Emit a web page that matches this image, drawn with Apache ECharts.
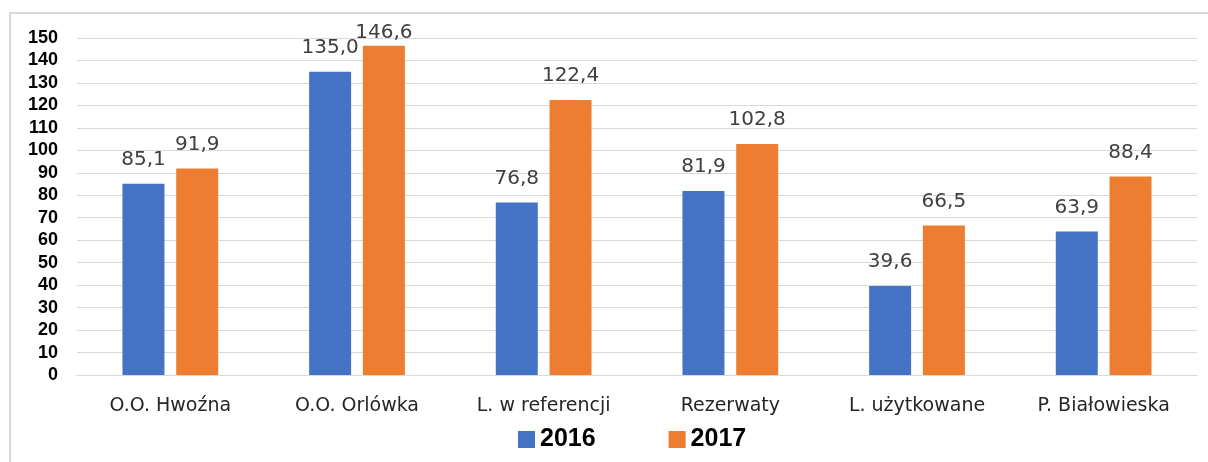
<!DOCTYPE html>
<html>
<head>
<meta charset="utf-8">
<script src="https://cdn.jsdelivr.net/npm/echarts@6/dist/echarts.min.js"></script>
<style>
	html, body { margin: 0; padding: 0; background: #fff; }
	#chart { width: 1208px; height: 462px; }
</style>
</head>
<body>
<div id="chart"></div>
<script>
	var categories = ['O.O. Hwoźna', 'O.O. Orlówka', 'L. w referencji', 'Rezerwaty', 'L. użytkowane', 'P. Białowieska'];
	var values2016 = [85.1, 135.0, 76.8, 81.9, 39.6, 63.9];
	var values2017 = [91.9, 146.6, 122.4, 102.8, 66.5, 88.4];
	var seriesNames = ['2016', '2017'];
	var colors = ['#4472c4', '#ed7d31'];
	var yMax = 150;

	var chart = echarts.init(document.getElementById('chart'));

	// label with comma as decimal point
	var labelOpt = {
		show: true,
		position: 'top',
		distance: 14,
		color: '#404040',
		fontFamily: 'DejaVu Sans',
		fontSize: 20,
		formatter: function(p){
			return p.value.toFixed(1).replace('.', ',');
		}
	};

	// labels near the top get squeezed down like in the original
	function buildData(arr){
		return arr.map(function(v){
			if(v > yMax - 8)
				return { value: v, label: { distance: 3 } };
			return v;
		});
	}

	var option = {
		animation: false,
		color: colors,
		graphic: [{
			type: 'rect',
			shape: { x: 10, y: 13, width: 1220, height: 470 },
			style: { fill: 'none', stroke: '#d9d9d9', lineWidth: 2 },
			silent: true
		}],
		grid: { left: 77, right: 11, top: 38, bottom: 87 },
		legend: {
			top: 427,
			left: 518,
			padding: 0,
			itemWidth: 17,
			itemHeight: 17,
			itemGap: 73,
			icon: 'rect',
			textStyle: { fontFamily: 'Liberation Sans', fontSize: 25, fontWeight: 'bold', color: '#000' },
			data: seriesNames
		},
		xAxis: {
			type: 'category',
			data: categories,
			axisLine: { lineStyle: { color: '#d9d9d9', width: 1 } },
			axisTick: { show: false },
			axisLabel: { margin: 22, color: '#262626', fontFamily: 'DejaVu Sans', fontSize: 19 }
		},
		yAxis: {
			type: 'value',
			min: 0,
			max: yMax,
			interval: 10,
			axisLine: { show: false },
			axisTick: { show: false },
			splitLine: { lineStyle: { color: '#d9d9d9', width: 1 } },
			axisLabel: { margin: 19, color: '#000', fontFamily: 'Liberation Sans', fontSize: 18, fontWeight: 'bold' }
		},
		series: [{
			name: seriesNames[0],
			type: 'bar',
			data: buildData(values2016),
			barWidth: 42,
			barGap: '28%',
			label: labelOpt
		}, {
			name: seriesNames[1],
			type: 'bar',
			data: buildData(values2017),
			barWidth: 42,
			label: labelOpt
		}]
	};

	chart.setOption(option);
</script>
</body>
</html>
